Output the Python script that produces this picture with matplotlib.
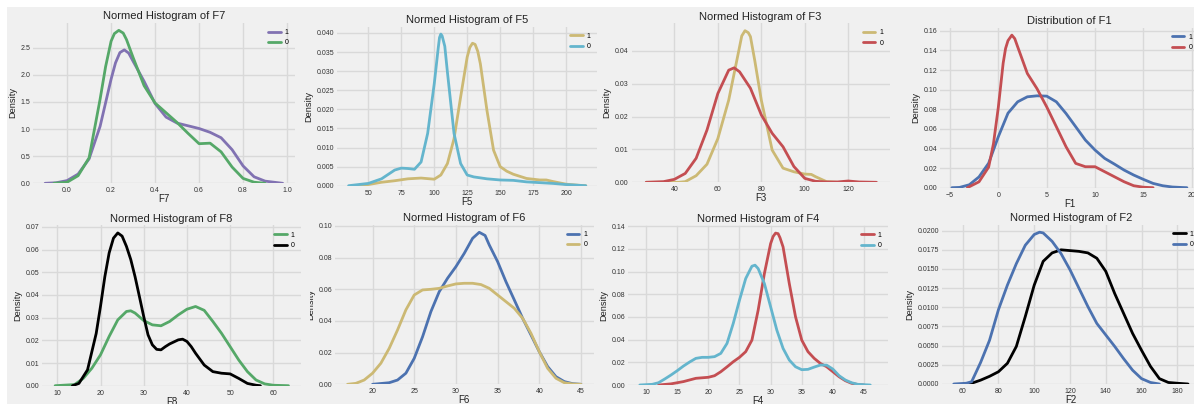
import numpy as np
import matplotlib
matplotlib.use("Agg")
import matplotlib.pyplot as plt
from matplotlib.patches import Rectangle

# curve values (kde estimates), label "1" and "0"
f7_x1 = [-0.10, -0.05, 0.0, 0.05, 0.10, 0.15, 0.20, 0.22, 0.24, 0.26, 0.28, 0.30, 0.35, 0.40, 0.45, 0.50, 0.55, 0.60, 0.65, 0.70, 0.75, 0.80, 0.85, 0.90, 0.98]
f7_y1 = [0.0, 0.01, 0.05, 0.17, 0.45, 1.05, 1.92, 2.22, 2.41, 2.46, 2.40, 2.25, 1.88, 1.47, 1.22, 1.11, 1.06, 1.01, 0.94, 0.84, 0.62, 0.32, 0.12, 0.04, 0.0]
f7_x0 = [-0.06, 0.0, 0.05, 0.10, 0.15, 0.175, 0.20, 0.215, 0.235, 0.255, 0.27, 0.30, 0.35, 0.40, 0.45, 0.50, 0.55, 0.60, 0.65, 0.70, 0.75, 0.80, 0.85, 0.90]
f7_y0 = [0.0, 0.02, 0.14, 0.47, 1.55, 2.15, 2.62, 2.76, 2.82, 2.77, 2.65, 2.32, 1.80, 1.48, 1.30, 1.12, 0.92, 0.73, 0.74, 0.58, 0.30, 0.09, 0.02, 0.0]

f5_x1 = [40, 50, 60, 70, 80, 90, 100, 105, 110, 115, 120, 125, 127, 129, 131, 133, 135, 140, 145, 150, 155, 160, 170, 180, 185, 190, 200, 210, 215]
f5_y1 = [0, 0.0003, 0.0009, 0.0013, 0.0018, 0.0020, 0.0017, 0.0028, 0.0058, 0.0123, 0.0232, 0.0337, 0.0362, 0.0373, 0.0370, 0.0352, 0.0319, 0.0197, 0.0093, 0.0050, 0.0038, 0.0030, 0.0019, 0.0015, 0.0015, 0.0011, 0.0004, 0.0001, 0]
f5_x0 = [35, 50, 60, 70, 75, 80, 85, 90, 95, 100, 103, 104, 105, 106, 108, 110, 115, 120, 125, 130, 140, 150, 160, 170, 180, 190, 200, 215]
f5_y0 = [0, 0.0006, 0.0018, 0.0041, 0.0046, 0.0045, 0.0043, 0.0062, 0.0137, 0.0267, 0.0360, 0.0388, 0.0397, 0.0392, 0.0365, 0.0297, 0.0137, 0.0058, 0.0028, 0.0023, 0.0018, 0.0015, 0.0014, 0.0010, 0.0008, 0.0006, 0.0003, 0]

f3_x1 = [27, 42, 45, 50, 55, 60, 65, 70, 71, 72.5, 74, 75, 77, 80, 85, 90, 95, 100, 103, 105, 110, 115]
f3_y1 = [0, 0, 0.0002, 0.0020, 0.0055, 0.0133, 0.0250, 0.0412, 0.0445, 0.0461, 0.0455, 0.0443, 0.0370, 0.0250, 0.0098, 0.0043, 0.0032, 0.0025, 0.0024, 0.0017, 0.0002, 0]
f3_x0 = [27, 35, 40, 45, 50, 55, 60, 65, 67.5, 70, 75, 80, 85, 90, 95, 100, 105, 110, 115, 120, 125, 133]
f3_y0 = [0, 0.0002, 0.0009, 0.0027, 0.0073, 0.0159, 0.0270, 0.0341, 0.0348, 0.0336, 0.0286, 0.0205, 0.0149, 0.0108, 0.0048, 0.0012, 0.0003, 0.0001, 0.0001, 0.0004, 0.0001, 0]

f1_x1 = [-4.8, -4, -3, -2, -1, 0, 1, 2, 3, 4, 5, 6, 7, 8, 9, 10, 11, 12, 13, 14, 15, 16, 17, 18, 19, 19.5]
f1_y1 = [0, 0.0003, 0.003, 0.011, 0.025, 0.052, 0.076, 0.0876, 0.0927, 0.0937, 0.0934, 0.0876, 0.0757, 0.0622, 0.0486, 0.0384, 0.0299, 0.0241, 0.018, 0.0129, 0.0085, 0.0044, 0.002, 0.0007, 0.0002, 0]
f1_x0 = [-3.2, -2, -1, -0.5, 0, 0.5, 0.75, 1, 1.4, 1.7, 2, 3, 4, 5, 6, 7, 8, 9, 10, 11, 12, 13, 14, 15, 16]
f1_y0 = [0, 0.006, 0.021, 0.045, 0.082, 0.127, 0.142, 0.150, 0.1556, 0.152, 0.1437, 0.1165, 0.101, 0.0825, 0.0622, 0.0418, 0.0248, 0.0214, 0.0214, 0.0163, 0.0112, 0.0061, 0.002, 0.0005, 0]

f8_x1 = [9.5, 14, 16, 18, 20, 22, 24, 26, 27, 28, 30, 32, 34, 36, 38, 40, 42, 44, 46, 48, 50, 52, 54, 56, 58, 60, 63.5]
f8_y1 = [0, 0.0005, 0.0032, 0.0077, 0.0136, 0.0217, 0.029, 0.0327, 0.033, 0.032, 0.0287, 0.0268, 0.0264, 0.0283, 0.0312, 0.0337, 0.0349, 0.0332, 0.0283, 0.0231, 0.0172, 0.0113, 0.0062, 0.0025, 0.0008, 0.0002, 0]
f8_x0 = [13.5, 15, 17, 19, 20, 21, 22, 23, 24, 25, 26, 27, 28, 29, 30, 31, 32, 33, 34, 35, 36, 38, 39, 40, 41, 42, 44, 46, 48, 50, 52, 54, 56, 57]
f8_y0 = [0, 0.001, 0.007, 0.023, 0.035, 0.048, 0.0585, 0.065, 0.0673, 0.0659, 0.0614, 0.0556, 0.048, 0.0393, 0.0305, 0.0224, 0.018, 0.016, 0.0158, 0.0172, 0.0184, 0.0202, 0.0205, 0.0195, 0.0172, 0.0143, 0.0091, 0.0062, 0.0055, 0.0052, 0.0032, 0.001, 0.0002, 0]

f6_x1 = [20, 22, 23, 24, 25, 26, 27, 28, 29, 30, 31, 32, 32.8, 33.5, 34, 35, 36, 37, 38, 39, 40, 41, 42, 43, 44, 45]
f6_y1 = [0, 0.001, 0.0027, 0.007, 0.0164, 0.030, 0.0459, 0.0585, 0.067, 0.0743, 0.0827, 0.0922, 0.096, 0.094, 0.088, 0.0775, 0.0648, 0.0533, 0.0417, 0.0312, 0.0206, 0.0112, 0.0048, 0.0017, 0.0004, 0]
f6_x0 = [17, 18, 19, 20, 21, 22, 23, 24, 25, 26, 27, 28, 29, 30, 31, 32, 33, 34, 35, 36, 37, 38, 39, 40, 41, 42, 43, 44, 45]
f6_y0 = [0, 0.0006, 0.0027, 0.007, 0.0133, 0.0227, 0.0343, 0.047, 0.0564, 0.0596, 0.060, 0.0606, 0.0621, 0.0634, 0.0638, 0.0638, 0.063, 0.0606, 0.0564, 0.0522, 0.048, 0.0417, 0.0322, 0.0206, 0.0101, 0.0038, 0.001, 0.0002, 0]

f4_x1 = [12, 14, 16, 18, 20, 21, 22, 23, 24, 25, 26, 27, 28, 29, 30, 30.4, 30.8, 31.2, 31.5, 32, 33, 34, 35, 36, 37, 38, 39, 40, 41, 42, 43, 44, 45]
f4_y1 = [0, 0.001, 0.003, 0.0059, 0.0068, 0.0082, 0.0117, 0.016, 0.0205, 0.0244, 0.0294, 0.0396, 0.066, 0.0983, 0.1247, 0.131, 0.134, 0.1335, 0.130, 0.1218, 0.0895, 0.0602, 0.0396, 0.0294, 0.0235, 0.019, 0.0161, 0.0117, 0.0073, 0.0038, 0.0015, 0.0004, 0]
f4_x0 = [9, 11, 12, 13, 14, 15, 16, 17, 18, 19, 20, 21, 22, 23, 24, 25, 26, 27, 27.5, 28, 29, 30, 31, 32, 33, 34, 35, 36, 37, 38, 39, 40, 41, 42, 43, 44, 46]
f4_y0 = [0, 0.0006, 0.002, 0.0053, 0.0088, 0.0126, 0.0167, 0.0203, 0.0235, 0.0244, 0.0244, 0.025, 0.0279, 0.0367, 0.0543, 0.0748, 0.0939, 0.1048, 0.1057, 0.1027, 0.0895, 0.069, 0.0484, 0.0323, 0.022, 0.0161, 0.0135, 0.0138, 0.0158, 0.0176, 0.0175, 0.014, 0.0082, 0.0044, 0.002, 0.0006, 0]

f2_x1 = [62, 65, 70, 75, 80, 85, 90, 95, 100, 105, 110, 115, 120, 125, 130, 135, 140, 145, 150, 155, 160, 165, 170, 175, 180, 186]
f2_y1 = [0, 0.0001, 0.0005, 0.001, 0.0016, 0.0027, 0.0049, 0.0088, 0.0129, 0.016, 0.0171, 0.0175, 0.0174, 0.0173, 0.0171, 0.0164, 0.0147, 0.0118, 0.0092, 0.0066, 0.0044, 0.0023, 0.0007, 0.0002, 0.0001, 0]
f2_x0 = [55, 62, 65, 70, 75, 80, 85, 90, 95, 100, 103, 105, 110, 115, 120, 125, 130, 135, 140, 145, 150, 155, 160, 165, 170]
f2_y0 = [0, 0.0001, 0.0003, 0.0028, 0.0057, 0.0097, 0.0129, 0.0157, 0.0181, 0.0195, 0.0198, 0.0197, 0.0186, 0.017, 0.0149, 0.0125, 0.0101, 0.0079, 0.0064, 0.0049, 0.0033, 0.0018, 0.0007, 0.0002, 0]

titles = ["Normed Histogram of F7", "Normed Histogram of F5", "Normed Histogram of F3", "Distribution of F1",
          "Normed Histogram of F8", "Normed Histogram of F6", "Normed Histogram of F4", "Normed Histogram of F2"]
xlabels = ["F7", "F5", "F3", "F1", "F8", "F6", "F4", "F2"]
legend_labels = ["1", "0"]

BLUE, GREEN, RED = "#4C72B0", "#55A868", "#C44E52"
PURPLE, YELLOW, CYAN = "#8172B2", "#CCB974", "#64B5CD"

W, H = 1194, 404
BG = "#f0f0f0"

# (curves, colors, axes box in px [left, right, top, bottom], xlim, xticks, yticks)
panels = [
    ((f7_x1, f7_y1, f7_x0, f7_y0), (PURPLE, GREEN), (33, 295, 22.7, 183.3), (-0.155, 1.036),
     np.arange(0, 1.01, 0.2), np.arange(0, 2.6, 0.5)),
    ((f5_x1, f5_y1, f5_x0, f5_y0), (YELLOW, CYAN), (337, 597, 26.5, 185.7), (26.2, 223.5),
     np.arange(50, 201, 25), np.arange(0, 0.0401, 0.005)),
    ((f3_x1, f3_y1, f3_x0, f3_y0), (YELLOW, RED), (631.6, 889.7, 23.1, 182.3), (20.3, 139.1),
     np.arange(40, 121, 20), np.arange(0, 0.041, 0.01)),
    ((f1_x1, f1_y1, f1_x0, f1_y0), (BLUE, RED), (940.3, 1198.5, 27.5, 187.7), (-6.0, 20.7),
     np.arange(-5, 21, 5), np.arange(0, 0.161, 0.02)),
    ((f8_x1, f8_y1, f8_x0, f8_y0), (GREEN, "black"), (42, 301, 225.3, 385.7), (6.46, 66.4),
     np.arange(10, 61, 10), np.arange(0, 0.071, 0.01)),
    ((f6_x1, f6_y1, f6_x0, f6_y0), (BLUE, YELLOW), (335, 593.5, 224.7, 384.3), (15.5, 46.5),
     np.arange(20, 46, 5), np.arange(0, 0.101, 0.02)),
    ((f4_x1, f4_y1, f4_x0, f4_y0), (RED, CYAN), (628, 888, 225.5, 385), (7.1, 48.85),
     np.arange(10, 46, 5), np.arange(0, 0.141, 0.02)),
    ((f2_x1, f2_y1, f2_x0, f2_y0), ("black", BLUE), (941.6, 1200, 224.6, 384), (48.2, 192.7),
     np.arange(60, 181, 20), np.arange(0, 0.02001, 0.0025)),
]

plt.rcParams['font.family'] = ['Liberation Sans', 'DejaVu Sans']

fig = plt.figure(figsize=(W / 100, H / 100), dpi=100, facecolor=BG)

for i, (curves, colors, box, xlim, xt, yt) in enumerate(panels):
    l, r, t, b = box
    ax = fig.add_axes([l / W, 1 - b / H, (r - l) / W, (b - t) / H], facecolor=BG)
    x1, y1, x0, y0 = curves
    ax.plot(x1, y1, color=colors[0], lw=2, label=legend_labels[0], solid_capstyle='round', solid_joinstyle='round')
    ax.plot(x0, y0, color=colors[1], lw=2, label=legend_labels[1], solid_capstyle='round', solid_joinstyle='round')
    ax.set_xlim(xlim)
    ax.set_ylim(0, max(max(y1), max(y0)) * 1.05)
    ax.set_xticks(xt)
    ax.set_yticks(yt)
    ax.grid(True, color="#d9d9d9", lw=1)
    ax.set_axisbelow(True)
    for s in ax.spines.values():
        s.set_visible(False)
    ax.tick_params(length=0, labelsize=5, colors="#333333")
    ax.tick_params(axis='x', pad=3)
    ax.tick_params(axis='y', pad=2)
    ax.set_title(titles[i], fontsize=8, pad=2.5, color="#222222")
    ax.set_xlabel(xlabels[i], fontsize=7, labelpad=0, color="#222222")
    ax.set_ylabel("Density", fontsize=6.7, labelpad=2.5, color="#222222")
    ax.legend(loc='upper right', frameon=False, fontsize=5, handlelength=1.8,
              handletextpad=0.6, labelspacing=0.5, borderaxespad=0.5)

# white border at top and left of the screenshot
fig.add_artist(Rectangle((0, 1 - 7 / H), 1, 7 / H, transform=fig.transFigure,
                         facecolor="white", edgecolor="none", zorder=20))
fig.add_artist(Rectangle((0, 0), 7 / W, 1, transform=fig.transFigure,
                         facecolor="white", edgecolor="none", zorder=20))
# the F6 label is cut by the neighbouring panel
fig.add_artist(Rectangle((302 / W, 1 - 390 / H), 8 / W, 170 / H, transform=fig.transFigure,
                         facecolor=BG, edgecolor="none", zorder=20))

fig.savefig("out.png", dpi=100, facecolor=BG)
